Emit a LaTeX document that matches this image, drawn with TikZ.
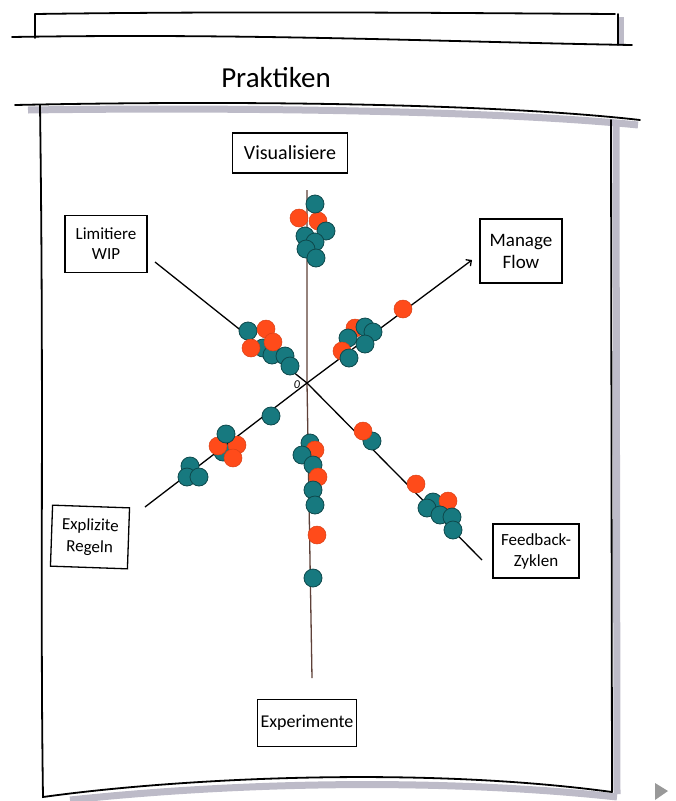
\documentclass[tikz,border=0pt]{standalone}
\usepackage{fontspec}
\setmainfont{Carlito}
\usetikzlibrary{arrows.meta}

\definecolor{dotteal}{HTML}{17797F}
\definecolor{dotorange}{HTML}{FF4B1A}
\definecolor{boardgray}{HTML}{BDBBC8}
\definecolor{axisbrown}{HTML}{5E4038}

\tikzset{
	frame/.style={black,line width=1.8pt,line cap=round},
	shadow/.style={draw=boardgray,line width=7pt},
	label/.style={draw,line width=1.3pt,align=center,inner sep=0pt},
	axis/.style={line width=1.3pt},
	dotT/.style={fill=dotteal,draw=dotteal!60!black,line width=0.8pt},
	dotO/.style={fill=dotorange,draw=dotorange!85!black,line width=0.5pt}
}

\begin{document}
\begin{tikzpicture}[x=1pt,y=-1pt]
	
	\useasboundingbox (0,0) rectangle (676,801);
	
	%        \only<1->
	{
		% Flipchart
		\draw[shadow,line width=5pt] (621,17) -- (621,46);
		\draw[shadow] (28,110) .. controls (250,107) and (500,111) .. (638,125);
		\draw[shadow] (616,124) -- (617,794);
		\draw[shadow] (70,800) .. controls (250,781) and (450,779) .. (617,797);
		
		\draw[frame] (35,14) .. controls (250,11) and (450,13) .. (615,14);
		\draw[frame] (35,14) -- (35,38);
		\draw[frame] (618,14) -- (618,45);
		\draw[frame] (12,37) .. controls (250,33) and (450,42) .. (632,45);
		
		\draw[frame] (15,105) .. controls (250,100) and (500,104) .. (640,120);
		\draw[frame] (40,105) .. controls (44,400) and (40,600) .. (43,797)
		.. controls (180,778) and (420,766) .. (612,792);
		\draw[frame] (611,120) -- (612,792);
		
		\fill[gray!80] (655,783) -- (668,791) -- (655,800) -- cycle;
		
		\node[font=\fontsize{29}{31}\selectfont] (Title) at (276,78) {Praktiken};
	}
	
	%        \only<2->
	{
		\node[label,minimum width=115,minimum height=40,font=\fontsize{20}{22}\selectfont] (Visual) at (290,153) {Visualisiere};
		\node[label,minimum width=82,minimum height=57,font=\fontsize{17}{20}\selectfont] (Limit) at (106,244) {Limitiere\\WIP};
		\node[label,minimum width=82,minimum height=64,font=\fontsize{19}{22}\selectfont] (Flow) at (521,251) {Manage\\Flow};
		\node[label,minimum width=77,minimum height=61,rotate=-2,font=\fontsize{17}{22}\selectfont] (Rules) at (90,537) {Explizite\\Regeln};
		\node[label,minimum width=86,minimum height=54,font=\fontsize{17}{21}\selectfont] (Feedback) at (536,551) {Feedback-\\Zyklen};
		\node[label,minimum width=99,minimum height=47,font=\fontsize{18}{20}\selectfont] (Experiment) at (307,723) {Experimente};
	}
	
	%        \only<3->
	{
		\coordinate (O) at (307,383);
		\coordinate (VisualEnd) at (307,190);
		\coordinate (ExperimentEnd) at (312,678);
		\coordinate (LimitEnd) at (155,262);
		\coordinate (FeedbackEnd) at (482,560);
		\coordinate (RulesEnd) at (145,507);
		\coordinate (FlowEnd) at (472,260);
		
		\draw[axis,axisbrown] (VisualEnd) -- (O) -- (ExperimentEnd);
		\draw[axis] (LimitEnd) -- (O) -- (FeedbackEnd);
		\draw[axis,-{Straight Barb[length=4pt]}] (RulesEnd) -- (O) -- (FlowEnd);
		
		\node[font=\fontsize{12}{13}\selectfont\itshape] (Zero) at (297,385) {0};
	}
	
	%        \only<4->
	{
		\foreach \x/\y/\c in {299/218/O,318/221/O,315/204/T,326/231/T,305/236/T,315/242/T,306/249/T,316/258/T,
			248/331/T,266/329/O,263/348/T,272/355/T,273/342/O,251/348/O,285/356/T,290/366/T,
			355/328/O,365/327/T,373/332/T,348/338/T,365/344/T,342/351/O,349/358/T,403/309/O,
			271/416/T,223/452/T,218/446/O,237/445/O,233/458/O,226/434/T,190/466/T,187/477/T,199/477/T,
			310/443/T,315/450/O,302/455/T,313/465/T,318/477/O,313/490/T,315/505/T,317/535/O,313/578/T,
			372/441/T,363/431/O,416/484/O,433/502/T,427/508/T,448/501/O,440/515/T,452/517/T,453/530/T}
		{
			\filldraw[dot\c] (\x,\y) circle[radius=9pt];
		}
	}
	
\end{tikzpicture}
\end{document}
